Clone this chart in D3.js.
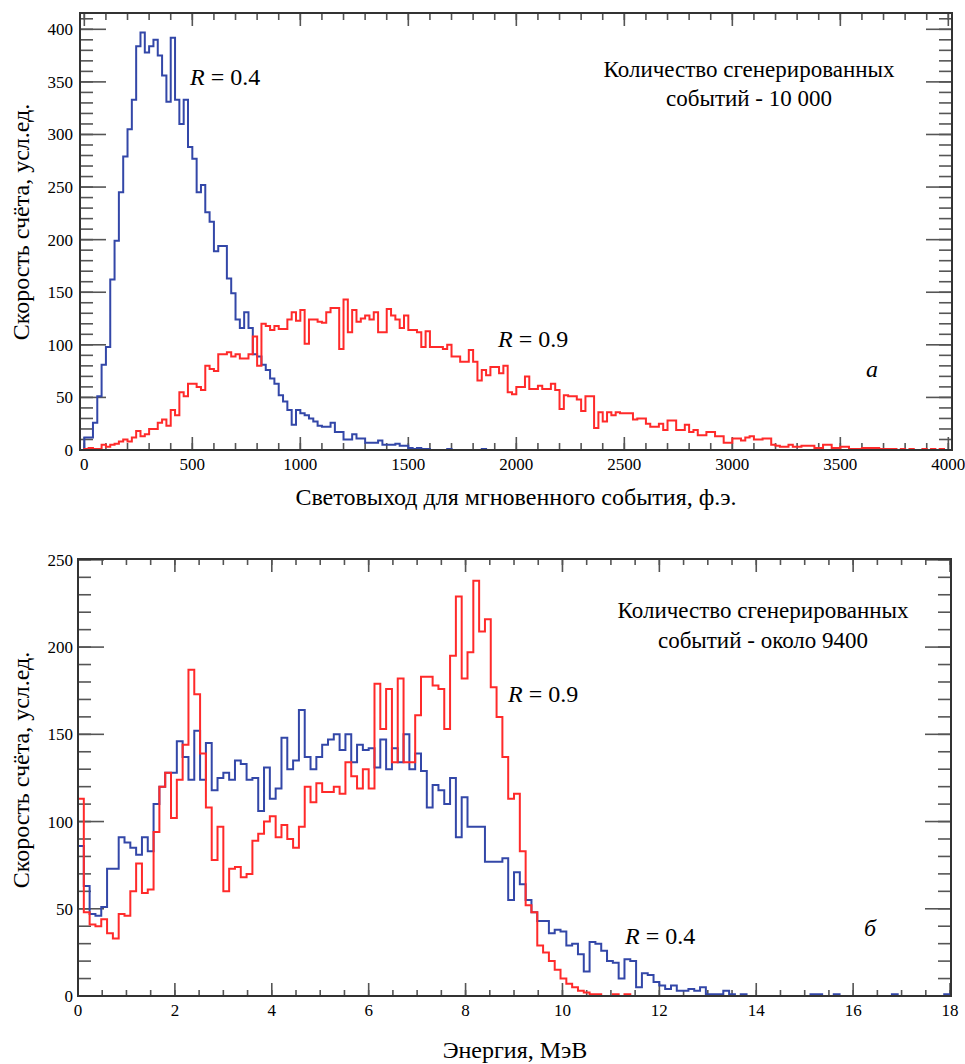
<!DOCTYPE html>
<html>
<head>
<meta charset="utf-8">
<script src="https://cdn.jsdelivr.net/npm/d3@7/dist/d3.min.js"></script>
<style>
  body { margin: 0; background: #fff; font-family: 'Liberation Serif'; }
</style>
</head>
<body>
<div id="chart"></div>
<script>
// page size
const width = 965
const height = 1064
const fontName = 'Times New Roman'
const blue = '#3347a8'
const red = '#ff2a2a'
const tickColor = '#555'

// ---- top panel (a): light yield histogram, 20 p.e. bins starting at 0
const lightBinWidth = 20
const lightR04 = [
  12, 12, 26, 51, 81, 98, 162, 199, 245, 279,
  305, 333, 384, 397, 378, 384, 390, 375, 356, 331,
  392, 333, 310, 333, 288, 277, 245, 252, 226, 217,
  189, 194, 194, 163, 149, 124, 116, 131, 116, 91,
  89, 81, 76, 68, 63, 52, 46, 38, 24, 38,
  35, 33, 30, 27, 23, 22, 22, 26, 17, 17,
  10, 10, 15, 11, 11, 7, 7, 7, 9, 5,
  5, 5, 6, 4, 4, 2, 1, 2, 1, 1,
  0, 0, 0, 0, 1, 0, 0, 0, 0, 0,
  0, 0, 1, 0, 0, 0, 0, 0, 0, 0,
  0, 0, 0, 0, 0, 0, 0, 0, 0, 0,
  0, 0, 0, 0, 0, 0, 0, 0, 0, 0,
  0, 0, 0, 0, 0, 0, 0, 0, 0, 0,
  0, 0, 0, 0, 0, 0, 0, 0, 0, 0,
  0, 0, 0, 0, 0, 0, 0, 0, 0, 0,
  0, 0, 0, 0, 0, 0, 0, 0, 0, 0,
  0, 0, 0, 0, 0, 0, 0, 0, 0, 0,
  0, 0, 0, 0, 0, 0, 0, 0, 0, 0,
  0, 0, 0, 0, 0, 0, 0, 0, 0, 0,
  0, 0, 0, 0, 0, 0, 0, 0, 0, 0
]
const lightR09 = [
  1, 2, 1, 1, 5, 3, 5, 6, 8, 10,
  8, 12, 18, 13, 15, 20, 20, 26, 29, 23,
  38, 33, 55, 51, 63, 63, 60, 57, 80, 77,
  75, 91, 91, 93, 89, 91, 87, 87, 91, 108,
  80, 120, 118, 114, 118, 115, 115, 124, 131, 123,
  133, 101, 124, 124, 122, 121, 131, 135, 135, 96,
  143, 112, 133, 122, 125, 128, 124, 131, 112, 112,
  134, 128, 124, 116, 128, 114, 114, 112, 98, 113,
  98, 98, 98, 96, 100, 89, 89, 84, 84, 95,
  84, 66, 76, 71, 79, 79, 73, 80, 55, 53,
  60, 60, 70, 58, 58, 61, 58, 58, 63, 57,
  39, 52, 51, 51, 48, 37, 51, 51, 21, 36,
  27, 36, 33, 36, 35, 35, 35, 29, 30, 30,
  25, 22, 22, 25, 19, 28, 28, 19, 19, 24,
  17, 19, 14, 14, 17, 17, 13, 13, 7, 7,
  11, 11, 9, 12, 13, 10, 10, 11, 11, 5,
  4, 3, 3, 5, 3, 3, 4, 4, 4, 2,
  2, 5, 5, 2, 2, 3, 3, 1, 1, 1,
  2, 2, 2, 2, 1, 1, 1, 1, 0, 1,
  0, 1, 0, 0, 1, 0, 1, 0, 1, 0
]

// ---- bottom panel (б): energy histogram, 0.12 MeV bins starting at 0
const energyBinWidth = 0.12
const energyR04 = [
  86, 63, 47, 46, 51, 73, 73, 91, 88, 85,
  81, 91, 83, 110, 120, 128, 128, 146, 137, 124,
  152, 124, 145, 118, 125, 128, 124, 135, 133, 124,
  125, 106, 131, 113, 119, 148, 130, 135, 164, 137,
  130, 137, 144, 147, 150, 141, 150, 134, 144, 141,
  142, 131, 147, 130, 142, 134, 150, 130, 139, 129,
  108, 121, 118, 110, 125, 91, 114, 97, 97, 97,
  77, 77, 77, 79, 55, 71, 64, 55, 48, 43,
  43, 36, 38, 37, 29, 30, 24, 14, 31, 30,
  26, 20, 19, 10, 21, 20, 5, 13, 12, 8,
  6, 4, 6, 3, 3, 4, 3, 5, 1, 1,
  1, 3, 1, 0, 1, 0, 0, 0, 0, 0,
  0, 0, 0, 0, 0, 0, 1, 1, 0, 0,
  1, 0, 0, 0, 0, 0, 0, 0, 0, 0,
  1, 0, 0, 0, 0, 0, 0, 0, 0, 1
]
const energyR09 = [
  113, 48, 41, 40, 44, 36, 33, 47, 46, 60,
  76, 59, 61, 94, 120, 128, 102, 124, 144, 187,
  173, 139, 108, 78, 97, 60, 73, 74, 68, 70,
  89, 93, 100, 103, 91, 98, 90, 85, 97, 120,
  111, 122, 117, 117, 120, 116, 134, 126, 119, 130,
  119, 179, 153, 176, 134, 182, 134, 134, 161, 183,
  183, 178, 176, 153, 195, 229, 182, 197, 238, 209,
  216, 177, 160, 137, 113, 116, 83, 52, 48, 29,
  25, 20, 15, 10, 7, 5, 3, 2, 1, 1,
  0, 0, 1, 0, 1, 0, 0, 0, 0, 0,
  0, 0, 0, 0, 0, 0, 0, 0, 0, 0,
  0, 0, 0, 0, 0, 0, 0, 0, 0, 0,
  0, 0, 0, 0, 0, 0, 0, 0, 0, 0,
  0, 0, 0, 0, 0, 0, 0, 0, 0, 0,
  0, 0, 0, 0, 0, 0, 0, 0, 0, 0
]

// tick values
const lightMajor = [0, 500, 1000, 1500, 2000, 2500, 3000, 3500, 4000]
const lightMinor = d3.range(0, 4001, 100)
const lightCountMajor = [0, 50, 100, 150, 200, 250, 300, 350, 400]
const lightCountMinor = d3.range(0, 411, 10)
const energyMajor = [0, 2, 4, 6, 8, 10, 12, 14, 16, 18]
const energyMinor = d3.range(0, 18.01, 0.5)
const energyCountMajor = [0, 50, 100, 150, 200, 250]
const energyCountMinor = d3.range(0, 251, 10)

const svg = d3.select('#chart')
  .append('svg')
  .attr('width', width)
  .attr('height', height)
  .style('font-family', fontName)

// step outline of a histogram
const histPoints = function (values, binWidth) {
  const pts = [[0, 0]]
  values.forEach((v, i) => pts.push([i * binWidth, v]))
  const end = values.length * binWidth
  pts.push([end, values[values.length - 1]])
  pts.push([end, 0])
  return pts
}

// plain text helper, font set right on the element
const addText = function (parent, str, size) {
  return parent.append('text')
    .style('font-family', fontName)
    .attr('font-size', size)
    .text(str)
}

const drawPanel = function (p) {
  const x = d3.scaleLinear().domain(p.xDomain).range([p.left, p.right])
  const y = d3.scaleLinear().domain(p.yDomain).range([p.bottom, p.top])
  const g = svg.append('g')

  // ticks, all four sides, pointing inward
  const ticks = g.append('g')
  const tick = (x1, y1, x2, y2) => ticks.append('line')
    .attr('x1', x1).attr('y1', y1).attr('x2', x2).attr('y2', y2)
    .attr('stroke', tickColor).attr('stroke-width', 1.6)
  const xTick = (vals, len) => vals.forEach(v => {
    tick(x(v), p.bottom, x(v), p.bottom - len)
    tick(x(v), p.top, x(v), p.top + len)
  })
  const yTick = (vals, len) => vals.forEach(v => {
    tick(p.left, y(v), p.left + len, y(v))
    tick(p.right, y(v), p.right - len, y(v))
  })
  xTick(p.xMinor, p.xMinorLen)
  xTick(p.xMajor, p.xMajorLen)
  yTick(p.yMinor, p.yMinorLen)
  yTick(p.yMajor, p.yMajorLen)

  // histograms
  const line = d3.line()
    .x(d => x(d[0]))
    .y(d => y(d[1]))
    .curve(d3.curveStepAfter)

  p.series.forEach(s => {
    g.append('path')
      .attr('d', line(histPoints(s.values, p.binWidth)))
      .attr('fill', 'none')
      .attr('stroke', s.color)
      .attr('stroke-width', 2)
  })

  // frame
  g.append('rect')
    .attr('x', p.left).attr('y', p.top)
    .attr('width', p.right - p.left).attr('height', p.bottom - p.top)
    .attr('fill', 'none').attr('stroke', '#333').attr('stroke-width', 2)

  // tick labels
  p.xMajor.forEach(v => {
    addText(g, d3.format('d')(v), 17)
      .attr('x', x(v)).attr('y', p.bottom + 20)
      .attr('text-anchor', 'middle')
  })
  p.yMajor.forEach(v => {
    addText(g, d3.format('d')(v), 17)
      .attr('x', p.left - p.yPad).attr('y', y(v) + 6)
      .attr('text-anchor', 'end')
  })

  // axis titles
  addText(g, p.xTitle, 24)
    .attr('x', p.xTitlePos[0]).attr('y', p.xTitlePos[1])
    .attr('text-anchor', 'middle')
  addText(g, p.yTitle, 24)
    .attr('transform', 'translate(' + p.yTitlePos[0] + ',' + p.yTitlePos[1] + ') rotate(-90)')
    .attr('text-anchor', 'middle')

  // annotations
  p.notes.forEach(n => {
    const t = addText(g, null, n.size)
      .attr('x', n.x).attr('y', n.y)
      .attr('text-anchor', n.anchor || 'start')
    if (n.italic) t.append('tspan').attr('font-style', 'italic').text(n.italic)
    if (n.text) t.append('tspan').text(n.text)
  })
}

drawPanel({
  left: 80, right: 952, top: 13, bottom: 450,
  xDomain: [-20, 4017], yDomain: [0, 415.5],
  binWidth: lightBinWidth,
  xMajor: lightMajor, xMinor: lightMinor, xMajorLen: 13, xMinorLen: 7,
  yMajor: lightCountMajor, yMinor: lightCountMinor, yMajorLen: 26, yMinorLen: 13, yPad: 7,
  series: [
    { values: lightR04, color: blue },
    { values: lightR09, color: red }
  ],
  xTitle: 'Световыход для мгновенного события, ф.э.',
  xTitlePos: [516, 505],
  yTitle: 'Скорость счёта, усл.ед.',
  yTitlePos: [29, 222],
  notes: [
    { x: 190, y: 85, size: 24, italic: 'R', text: ' = 0.4' },
    { x: 498, y: 347, size: 24, italic: 'R', text: ' = 0.9' },
    { x: 749, y: 77, size: 23, anchor: 'middle', text: 'Количество сгенерированных' },
    { x: 749, y: 106, size: 23, anchor: 'middle', text: 'событий - 10 000' },
    { x: 866, y: 377, size: 24, italic: 'а' }
  ]
})

drawPanel({
  left: 78, right: 951, top: 559, bottom: 996,
  xDomain: [0, 18.02], yDomain: [0, 250.5],
  binWidth: energyBinWidth,
  xMajor: energyMajor, xMinor: energyMinor, xMajorLen: 13, xMinorLen: 6,
  yMajor: energyCountMajor, yMinor: energyCountMinor, yMajorLen: 26, yMinorLen: 13, yPad: 5,
  series: [
    { values: energyR04, color: blue },
    { values: energyR09, color: red }
  ],
  xTitle: 'Энергия, МэВ',
  xTitlePos: [515, 1058],
  yTitle: 'Скорость счёта, усл.ед.',
  yTitlePos: [29, 770],
  notes: [
    { x: 508, y: 702, size: 24, italic: 'R', text: ' = 0.9' },
    { x: 625, y: 944, size: 24, italic: 'R', text: ' = 0.4' },
    { x: 763, y: 618, size: 23, anchor: 'middle', text: 'Количество сгенерированных' },
    { x: 763, y: 648, size: 23, anchor: 'middle', text: 'событий - около 9400' },
    { x: 864, y: 936, size: 24, italic: 'б' }
  ]
})
</script>
</body>
</html>
